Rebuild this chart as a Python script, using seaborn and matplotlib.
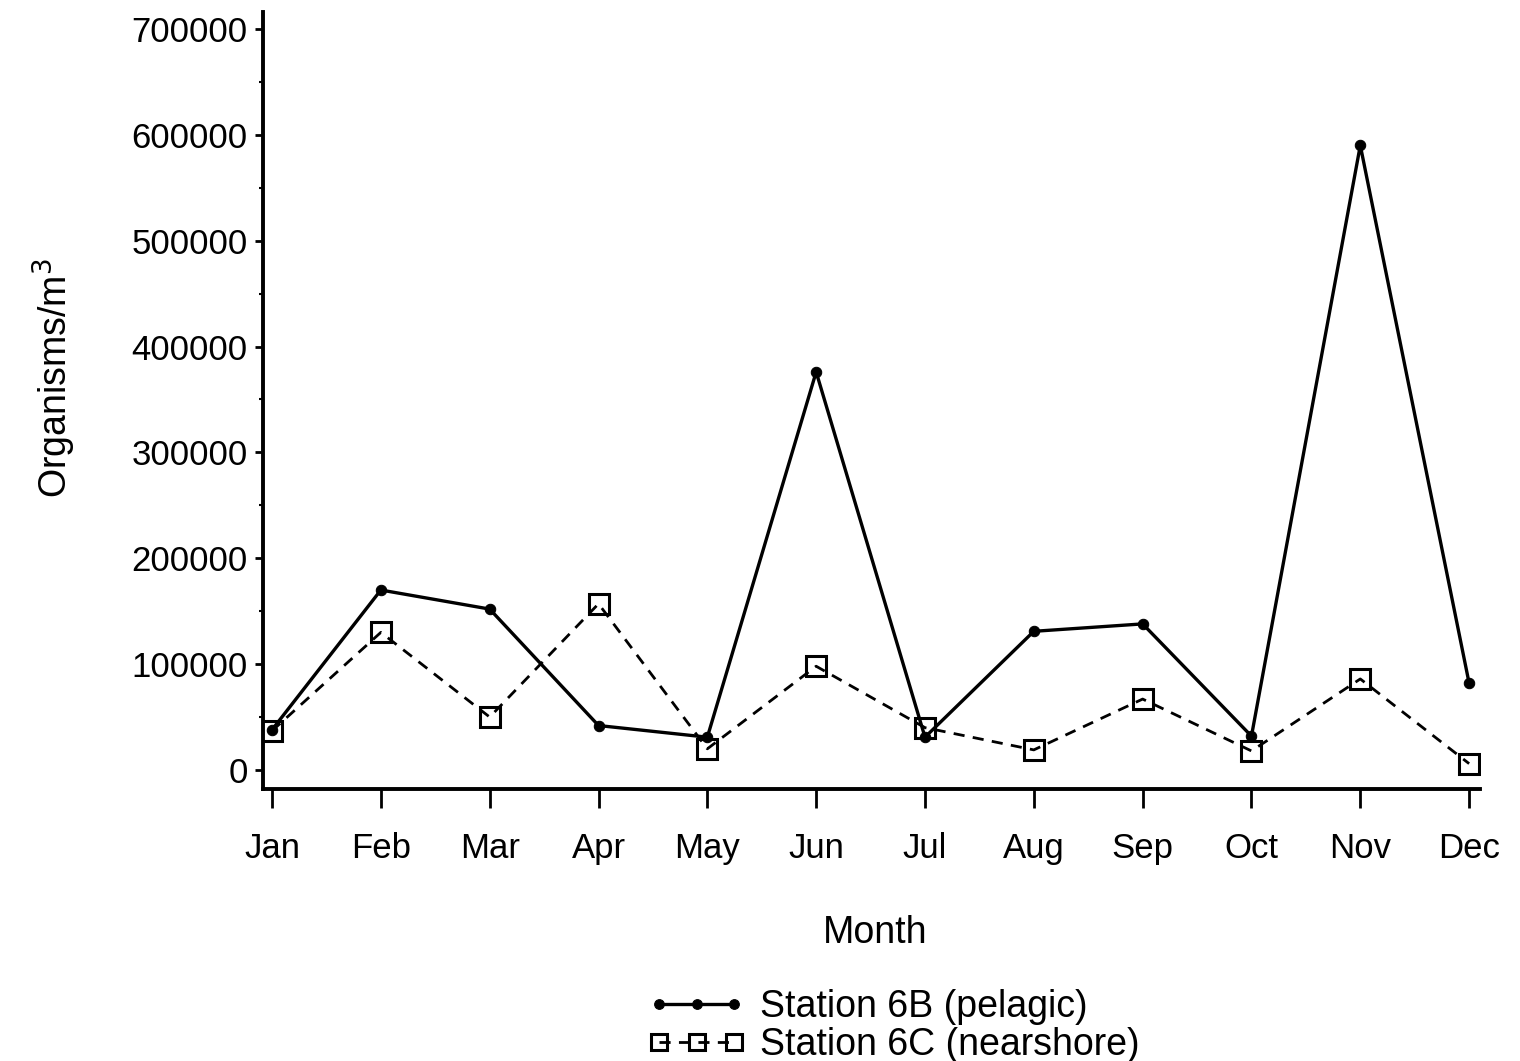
import numpy as np
import pandas as pd
import matplotlib
matplotlib.use("Agg")
import matplotlib.pyplot as plt
import seaborn as sns
from matplotlib.ticker import MultipleLocator

months = ["Jan", "Feb", "Mar", "Apr", "May", "Jun", "Jul", "Aug", "Sep", "Oct", "Nov", "Dec"]
station_6b = [38000, 170000, 152000, 42000, 31000, 376000, 31000, 131000, 138000, 32000, 590000, 82000]
station_6c = [37000, 130000, 50000, 157000, 20000, 98000, 40000, 19000, 67000, 18000, 86000, 6000]
yticks = [0, 100000, 200000, 300000, 400000, 500000, 600000, 700000]

sns.set_theme(style="ticks")
plt.rcParams['font.family'] = ['Liberation Sans', 'DejaVu Sans']
plt.rcParams['text.color'] = 'black'
plt.rcParams['axes.labelcolor'] = 'black'
plt.rcParams['xtick.color'] = 'black'
plt.rcParams['ytick.color'] = 'black'

df = pd.DataFrame({
    "pos": np.arange(len(months)),
    "Station 6B (pelagic)": station_6b,
    "Station 6C (nearshore)": station_6c,
})

fig = plt.figure(figsize=(15.2, 10.61), dpi=100)
ax = fig.add_axes([263/1520, 1 - 789/1061, (1480 - 263)/1520, (789 - 12)/1061])

sns.lineplot(data=df, x="pos", y="Station 6B (pelagic)", ax=ax, color="black",
             linewidth=2.4, marker="o", markersize=7.5, markeredgecolor="black",
             label="Station 6B (pelagic)")
sns.lineplot(data=df, x="pos", y="Station 6C (nearshore)", ax=ax, color="black",
             linewidth=2.0, linestyle=(0, (4, 3)), marker="s", markersize=15,
             markerfacecolor="none", markeredgecolor="black", markeredgewidth=2.2,
             label="Station 6C (nearshore)")

ax.set_xlim(-0.083, 11.10)
ax.set_ylim(-17950, 716000)
ax.set_xticks(np.arange(len(months)))
ax.set_xticklabels(months, fontsize=25)
ax.set_yticks(yticks)
ax.set_yticklabels([str(v) for v in yticks], fontsize=25)
ax.yaxis.set_minor_locator(MultipleLocator(50000))
ax.tick_params(axis="y", which="major", length=6, width=2, direction="out", pad=5)
ax.tick_params(axis="y", which="minor", length=3, width=1.5, direction="out")
ax.tick_params(axis="x", which="major", length=14, width=2, direction="out", pad=17)
for s in ["top", "right"]:
    ax.spines[s].set_visible(False)
for s in ["left", "bottom"]:
    ax.spines[s].set_linewidth(2.8)
    ax.spines[s].set_color("black")

ax.set_xlabel("Month", fontsize=27)
ax.xaxis.set_label_coords(0.503, -0.162)
ax.set_ylabel("Organisms/m$^3$", fontsize=27)
ax.yaxis.set_label_coords(-0.152, 0.529)

if ax.legend_:
    ax.legend_.remove()
handles, labels = ax.get_legend_handles_labels()
leg = fig.legend(handles, labels, loc="center", bbox_to_anchor=(894/1520, 1 - 1026/1061),
                 frameon=False, fontsize=27, numpoints=3, handlelength=2.6,
                 labelspacing=0.05, handletextpad=0.4)
for h in leg.legend_handles:
    if h.get_marker() == "s":
        h.set_markersize(11)
    else:
        h.set_markersize(7)

fig.savefig("out.png", dpi=100)
